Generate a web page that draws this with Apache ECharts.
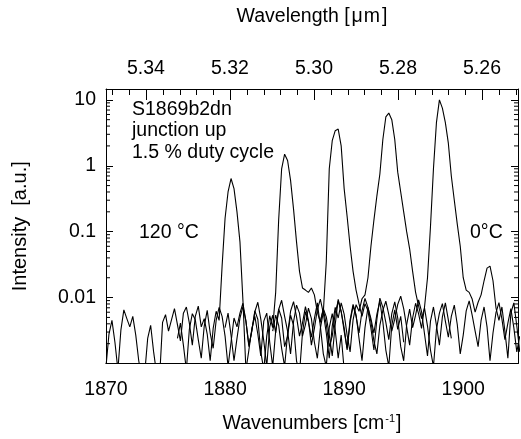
<!DOCTYPE html>
<html>
<head>
<meta charset="utf-8">
<script src="https://cdn.jsdelivr.net/npm/echarts@6/dist/echarts.min.js"></script>
<style>
  html, body { margin: 0; padding: 0; background: #ffffff; }
  #chart { width: 521px; height: 439px; }
</style>
</head>
<body>
<div id="chart"></div>
<script>
// tick labels
const wavenumberTicks = [1870, 1880, 1890, 1900];
const wavelengthTicks = [5.34, 5.32, 5.30, 5.28, 5.26];
const intensityTicks = [10, 1, 0.1, 0.01];

// every spectrum is sampled on a 0.25 cm-1 grid from its start wavenumber
const sampleStep = 0.25;

// 120 °C, laser line near 1880.6 cm-1
const start120 = 1870.0;
const intensity120 = [
  .0009, .0028, .0045, .0021, .0008, .0032, .0065, .0048, .0036, .0052,
  .0027, .0011, .0006, .0007, .0024, .0038, .0015, .0007, .0006, .0042,
  .0055, .0031, .0046, .0068, .0039, .0022, .0058, .0072, .0041, .0019,
  .0052, .0074, .0036, .0048, .0028, .0011, .0034, .0062, .0045,
  .03, .16, .4, .64, .45, .2, .07, .009, .0008,
  .0016, .0034, .0052, .0028, .0013, .0044, .0058, .0021, .0009, .0031,
  .0067, .0049, .0018, .0026, .0054, .0038, .0011, .0007, .0029, .0061,
  .0043, .0025, .0048, .0083, .0037, .0014, .0009, .0035, .0057, .0032,
  .0012, .0027, .0008
];

// next temperature, line near 1885.0 cm-1
const start90 = 1876.0;
const intensity90 = [
  .0024, .0041, .0019, .0008, .0033, .0057, .0046, .0023, .0012, .0037,
  .0064, .0029, .0017, .0045, .0071, .0052, .0026, .0009, .0021, .0049,
  .0036, .0058, .0082, .0044, .0019, .0031, .0063, .0047, .0015, .0008,
  .0026, .0053, .0035,
  .012, .15, .9, 1.5, 1.2, .6, .22, .07, .025, .014, .013, .012, .014, .011, .006,
  .0042, .0068, .0051, .0027, .0013, .0039, .0094, .0062, .0031, .0017,
  .0046, .0079, .0055, .0024, .0011, .0035, .0071, .0048, .0029, .0056,
  .0088, .0043, .0016, .0009, .0038, .0065, .0033, .0052, .0021
];

// line near 1889.4 cm-1
const start60 = 1880.0;
const intensity60 = [
  .0035, .0058, .0027, .0011, .0024, .0049, .0073, .0044, .0018, .0032,
  .0061, .0085, .0047, .0022, .0009, .0036, .0054, .0029, .0066, .0091,
  .0052, .0031, .0014, .0043, .0077, .0058, .0026, .0039, .0069, .0048,
  .0021, .0012, .0034,
  .006, .035, .9, 2.4, 3.4, 3.6, 2.0, .45, .17, .06, .025, .013, .008,
  .0052, .0081, .0063, .0034, .0016, .0047, .0098, .0071, .0042, .0023,
  .0057, .0086, .0049, .0018, .0011, .0039, .0067, .0035, .0054, .0092,
  .0061, .0028, .0013, .0044, .0072, .0038, .0019, .0051, .0083, .0046,
  .0024
];

// line near 1893.7 cm-1
const start30 = 1884.0;
const intensity30 = [
  .0031, .0054, .0038, .0017, .0009, .0028, .0062, .0087, .0051, .0026,
  .0041, .0073, .0045, .0019, .0034, .0066, .0095, .0058, .0029, .0012,
  .0037, .0071, .0049, .0083, .0056, .0027, .0015, .0046, .0078, .0062,
  .0096, .011,
  .02, .06, .15, .35, .75, 2.5, 5.5, 6.3, 5.0, 2.5, .8, .4, .2, .1, .055, .025, .012, .0075,
  .0048, .0069, .0037, .0016, .0009, .0033, .0058, .0081, .0044, .0025,
  .0052, .0077, .0039, .0014, .0027, .0063, .0089, .0054, .0031, .0018,
  .0045, .0072, .0036, .0011, .0029, .0059, .0084, .0047, .0023, .0041,
  .0068, .0035, .0015, .0026
];

// 0 °C, line near 1898.0 cm-1 with a side mode near 1902.1 cm-1
const start0 = 1888.0;
const intensity0 = [
  .0044, .0067, .0039, .0018, .0026, .0058, .0089, .0061, .0035, .0016,
  .0042, .0075, .0052, .0029, .0063, .0097, .0071, .0043, .0022, .0014,
  .0038, .0064, .0088, .0055, .0031, .0047, .0079, .0105, .0068, .0036,
  .0019, .0049, .0082, .0057, .0034, .0072,
  .02, .12, .9, 4.5, 10, 7.5, 4.5, 2.2, .7, .3, .13, .06, .02, .013,
  .012, .0095, .006, .0085, .011, .018, .028, .03, .018, .007,
  .0045, .0072, .0031, .0012, .0058, .0083, .0037, .0015
];

const spectra = [
  [start120, intensity120],
  [start90, intensity90],
  [start60, intensity60],
  [start30, intensity30],
  [start0, intensity0]
];

const FONT = 'Liberation Sans';
const FONT_SIZE = 19.5;
const near = (a, b) => Math.abs(a - b) < 1e-6 * Math.max(1, Math.abs(b));

// wavelength axis range; small ticks every 0.004 um, long ones at the labels
const wlMin = 5.25143;
const wlMax = 5.34952;
const wlMinorStep = 0.004;
const wlTickValues = [];
for (let k = Math.ceil(wlMin / wlMinorStep); k * wlMinorStep <= wlMax; k++) {
  wlTickValues.push(+(k * wlMinorStep).toFixed(3));
}

// log axis minor tick values 2..9 x 10^k
const minorTickValues = [];
for (let k = -3; k <= 0; k++) {
  for (let m = 2; m <= 9; m++) minorTickValues.push(m * Math.pow(10, k));
}

// frame ticks: [x, y, wavelength, tick length]; length 0 means a log-axis minor tick
const frameTicks = [
  ...minorTickValues.map(v => [1870, v, 0, 0]),
  ...wlTickValues.map(w => [1870, 1, w, wavelengthTicks.some(t => near(w, t)) ? 11 : 6])
];

const myChart = echarts.init(document.getElementById('chart'), null, { renderer: 'canvas' });

const lineSeries = spectra.map(([start, vals]) => ({
  type: 'line',
  xAxisIndex: 0,
  yAxisIndex: 0,
  data: vals.map((v, i) => [start + i * sampleStep, v]),
  showSymbol: false,
  symbol: 'none',
  clip: true,
  lineStyle: { color: '#000', width: 1.1 },
  silent: true,
  animation: false
}));

const option = {
  backgroundColor: '#ffffff',
  animation: false,
  grid: { left: 106, right: 3, top: 89, bottom: 74, containLabel: false },
  textStyle: { fontFamily: FONT },
  xAxis: [
    {
      type: 'value',
      position: 'bottom',
      min: 1870,
      max: 1904.6,
      interval: 10,
      name: 'Wavenumbers [cm{sup|-1}{br|]}',
      nameLocation: 'middle',
      nameGap: 50,
      nameTextStyle: {
        color: '#000', fontSize: FONT_SIZE, fontFamily: FONT,
        rich: {
          sup: { fontSize: 11, fontFamily: FONT, color: '#000', verticalAlign: 'top', padding: [0, 1, 10, 1] },
          br: { fontSize: FONT_SIZE, fontFamily: FONT, color: '#000' }
        }
      },
      axisLine: { show: true, lineStyle: { color: '#000', width: 1 } },
      axisTick: { show: false },
      splitLine: { show: false },
      axisLabel: {
        color: '#000', fontSize: FONT_SIZE, fontFamily: FONT, margin: 16,
        customValues: wavenumberTicks,
        formatter: v => String(Math.round(v))
      }
    },
    {
      type: 'value',
      position: 'top',
      inverse: true,
      min: wlMin,
      max: wlMax,
      name: 'Wavelength [{mu|\u03bc}m{br|]}',
      nameLocation: 'middle',
      nameGap: 62,
      nameTextStyle: {
        color: '#000', fontSize: FONT_SIZE, fontFamily: FONT,
        rich: {
          mu: { fontSize: FONT_SIZE, fontFamily: FONT, color: '#000', padding: [0, 1, 0, 2] },
          br: { fontSize: FONT_SIZE, fontFamily: FONT, color: '#000', padding: [0, 0, 0, 2] }
        }
      },
      axisLine: { show: true, lineStyle: { color: '#000', width: 1 } },
      axisTick: { show: false },
      splitLine: { show: false },
      axisLabel: {
        color: '#000', fontSize: FONT_SIZE, fontFamily: FONT, margin: 10,
        customValues: wavelengthTicks,
        formatter: v => v.toFixed(2)
      }
    }
  ],
  yAxis: [
    {
      type: 'log',
      logBase: 10,
      position: 'left',
      min: 0.001,
      max: 14.6,
      name: 'Intensity  [a.u.]',
      nameLocation: 'middle',
      nameGap: 76,
      nameTextStyle: { color: '#000', fontSize: 20, fontFamily: FONT },
      axisLine: { show: true, lineStyle: { color: '#000', width: 1 } },
      axisTick: { show: true, inside: true, length: 7, lineStyle: { color: '#000' } },
      splitLine: { show: false },
      axisLabel: {
        color: '#000', fontSize: FONT_SIZE, fontFamily: FONT, margin: 10,
        formatter: v => {
          const t = intensityTicks.find(w => near(v, w));
          return t === undefined ? '' : String(t);
        }
      }
    },
    {
      type: 'log',
      logBase: 10,
      position: 'right',
      min: 0.001,
      max: 14.6,
      axisLine: { show: true, lineStyle: { color: '#000', width: 1 } },
      axisTick: { show: true, inside: true, length: 7, lineStyle: { color: '#000' } },
      splitLine: { show: false },
      axisLabel: { show: false }
    }
  ],
  series: [
    ...lineSeries,
    {
      // minor ticks of the log axes and the ticks of the wavelength axis
      type: 'custom',
      xAxisIndex: 0,
      yAxisIndex: 0,
      silent: true,
      clip: false,
      data: frameTicks,
      renderItem: (params, api) => {
        const cs = params.coordSys;
        const style = { stroke: '#000', lineWidth: 1 };
        const len = api.value(3);
        if (len > 0) {
          // wavelength axis is inverted: wlMax at the left edge
          const x = Math.round(cs.x + cs.width * (wlMax - api.value(2)) / (wlMax - wlMin)) + 0.5;
          return { type: 'line', shape: { x1: x, y1: cs.y, x2: x, y2: cs.y + len }, style };
        }
        const y = api.coord([api.value(0), api.value(1)])[1];
        return {
          type: 'group',
          children: [
            { type: 'line', shape: { x1: cs.x, y1: y, x2: cs.x + 4, y2: y }, style },
            { type: 'line', shape: { x1: cs.x + cs.width - 4, y1: y, x2: cs.x + cs.width, y2: y }, style }
          ]
        };
      }
    }
  ]
};

myChart.setOption(option);

const textFont = FONT_SIZE + 'px "Liberation Sans"';
const notes = [
  { x: 132, y: 110, text: 'S1869b2dn' },
  { x: 132, y: 131, text: 'junction up' },
  { x: 132, y: 153, text: '1.5 % duty cycle' },
  { x: 139, y: 233, text: '120 \u00b0C' },
  { x: 470, y: 233, text: '0\u00b0C' }
];

myChart.setOption({
  graphic: notes.map(n => ({ type: 'text', silent: true, style: { x: n.x, y: n.y, text: n.text, font: textFont, fill: '#000', verticalAlign: 'middle' } }))
});
</script>
</body>
</html>
